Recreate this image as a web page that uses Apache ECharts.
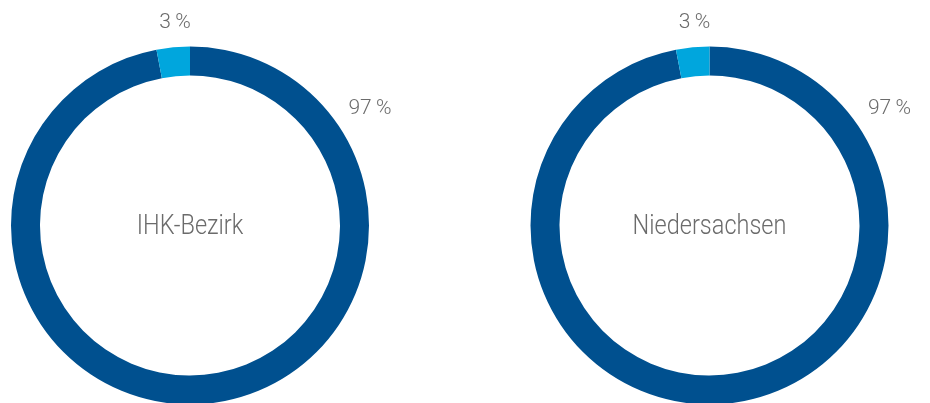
<!DOCTYPE html>
<html>
<head>
<meta charset="utf-8">
<script src="https://cdn.jsdelivr.net/npm/echarts@6/dist/echarts.min.js"></script>
<style>
  html, body { margin: 0; padding: 0; background: #ffffff; }
  #chart { width: 930px; height: 403px; }
</style>
</head>
<body>
<div id="chart"></div>
<script>
// Share of companies, per region
const regions = ['IHK-Bezirk', 'Niedersachsen'];
const shareMain = [97, 97];
const shareOther = [3, 3];

const colorMain = '#00508f';
const colorOther = '#00a6dd';
const textColor = '#6b6b6b';
const fontFamily = '"Roboto", "Liberation Sans", sans-serif';

const centers = [[190, 225.5], [709.5, 225.5]];
// label anchor offsets from each donut centre: [main share, other share]
const labelOffsets = [[180, -117], [-15, -203]];

const chart = echarts.init(document.getElementById('chart'), null, { renderer: 'canvas' });

const series = regions.map((name, i) => ({
  type: 'pie',
  name: name,
  center: centers[i],
  radius: [150, 179],
  startAngle: 90,
  clockwise: true,
  silent: true,
  emphasis: { disabled: true },
  labelLine: { show: false },
  label: {
    show: true,
    position: 'outside',
    formatter: p => p.value + '\u2009%',
    color: textColor,
    fontFamily: fontFamily,
    fontWeight: 300,
    fontSize: 21
  },
  labelLayout: function (params) {
    const off = labelOffsets[params.dataIndex];
    return {
      x: centers[i][0] + off[0],
      y: centers[i][1] + off[1],
      align: 'center',
      verticalAlign: 'middle'
    };
  },
  itemStyle: { borderWidth: 0 },
  data: [
    { name: 'main', value: shareMain[i], itemStyle: { color: colorMain } },
    { name: 'other', value: shareOther[i], itemStyle: { color: colorOther } }
  ]
}));

chart.setOption({
  animation: false,
  backgroundColor: '#ffffff',
  series: series,
  graphic: regions.map((name, i) => ({
    type: 'text',
    x: centers[i][0],
    y: centers[i][1] + 1,
    scaleX: 0.84,
    style: {
      text: name,
      fill: textColor,
      font: '300 28px ' + fontFamily,
      textAlign: 'center',
      textVerticalAlign: 'middle'
    }
  }))
});
</script>
</body>
</html>
